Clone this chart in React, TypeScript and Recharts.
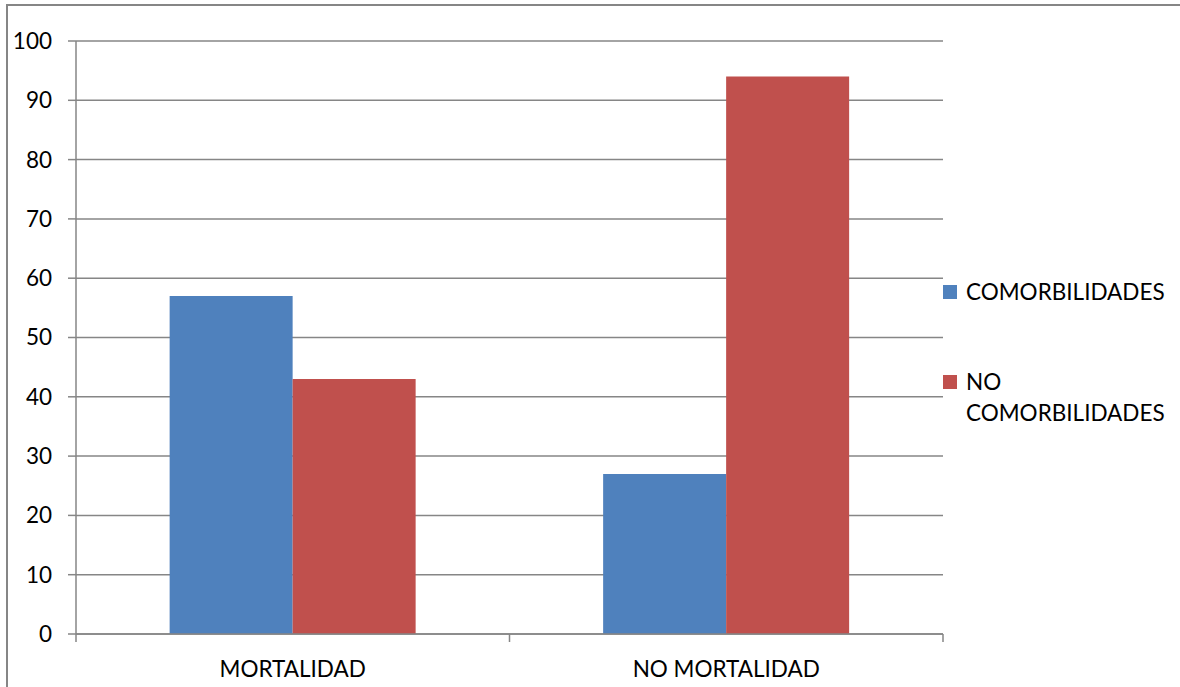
import { BarChart, Bar, XAxis, YAxis, CartesianGrid, Legend } from 'recharts';

const categories = ['MORTALIDAD', 'NO MORTALIDAD'];
const comorbilidades = [57, 27];
const noComorbilidades = [43, 94];
const yTicks = [0, 10, 20, 30, 40, 50, 60, 70, 80, 90, 100];

const data = categories.map((name, i) => ({
  name,
  com: comorbilidades[i],
  noCom: noComorbilidades[i],
}));

const FONT = 'Lato, "Liberation Sans", sans-serif';
const GRID = '#868686';

function CategoryTick({ x, y, payload, index, visibleTicksCount }: any) {
  const half = payload?.offset ?? 217;
  const isLast = index === (visibleTicksCount ?? categories.length) - 1;
  return (
    <g>
      <line x1={x - half} y1={y - 8} x2={x - half} y2={y} stroke={GRID} strokeWidth={1.5} />
      {isLast && <line x1={x + half} y1={y - 8} x2={x + half} y2={y} stroke={GRID} strokeWidth={1.5} />}
      <text x={x} y={y + 35} textAnchor="middle" fontSize={22.5} fontFamily={FONT} fill="#000">
        {payload.value}
      </text>
    </g>
  );
}

function LegendBox({ payload }: any) {
  const items = (payload || []).map((p: any) => ({ color: p.color, label: String(p.value) }));
  return (
    <div style={{ fontFamily: FONT, fontSize: 22.5, color: '#000', lineHeight: '31px' }}>
      {items.map((it: any, i: number) => (
        <div key={i} style={{ display: 'flex', alignItems: 'flex-start', marginBottom: i === 0 ? 59 : 0 }}>
          <span style={{ width: 14, height: 14, background: it.color, marginTop: 9, marginRight: 9, flex: 'none' }} />
          <span style={{ width: 214 }}>{it.label === 'NO COMORBILIDADES' ? <>NO<br />COMORBILIDADES</> : it.label}</span>
        </div>
      ))}
    </div>
  );
}

export default function App() {
  return (
    <div style={{ position: 'absolute', left: 0, top: 0, width: 1180, height: 687, overflow: 'hidden', background: '#fff' }}>
      <div style={{ position: 'absolute', left: 6, top: 4, width: 1300, height: 800, border: `2px solid ${GRID}` }} />
      <div style={{ position: 'absolute', left: 0, top: 0 }}>
        <BarChart
          width={1180}
          height={687}
          data={data}
          margin={{ top: 41, right: 237, bottom: 0, left: 0 }}
          barCategoryGap="21.6%"
          barGap={0}
        >
          <CartesianGrid vertical={false} stroke={GRID} strokeWidth={1.5} />
          <XAxis
            dataKey="name"
            stroke={GRID}
            strokeWidth={1.5}
            tickLine={false}
            tickSize={8}
            tickMargin={0}
            interval={0}
            tick={<CategoryTick />}
            height={53}
          />
          <YAxis
            domain={[0, 100]}
            ticks={yTicks}
            width={76}
            stroke={GRID}
            strokeWidth={1.5}
            tickSize={8}
            tickMargin={16}
            tick={{ fontSize: 22.5, fontFamily: FONT, fill: '#000' }}
          />
          <Legend
            layout="horizontal"
            verticalAlign="middle"
            align="center"
            content={<LegendBox />}
            wrapperStyle={{ position: 'absolute', left: 943, top: 276, width: 237 }}
          />
          <Bar dataKey="com" name="COMORBILIDADES" fill="#4F81BD" isAnimationActive={false} />
          <Bar dataKey="noCom" name="NO COMORBILIDADES" fill="#C0504D" isAnimationActive={false} />
        </BarChart>
      </div>
    </div>
  );
}
